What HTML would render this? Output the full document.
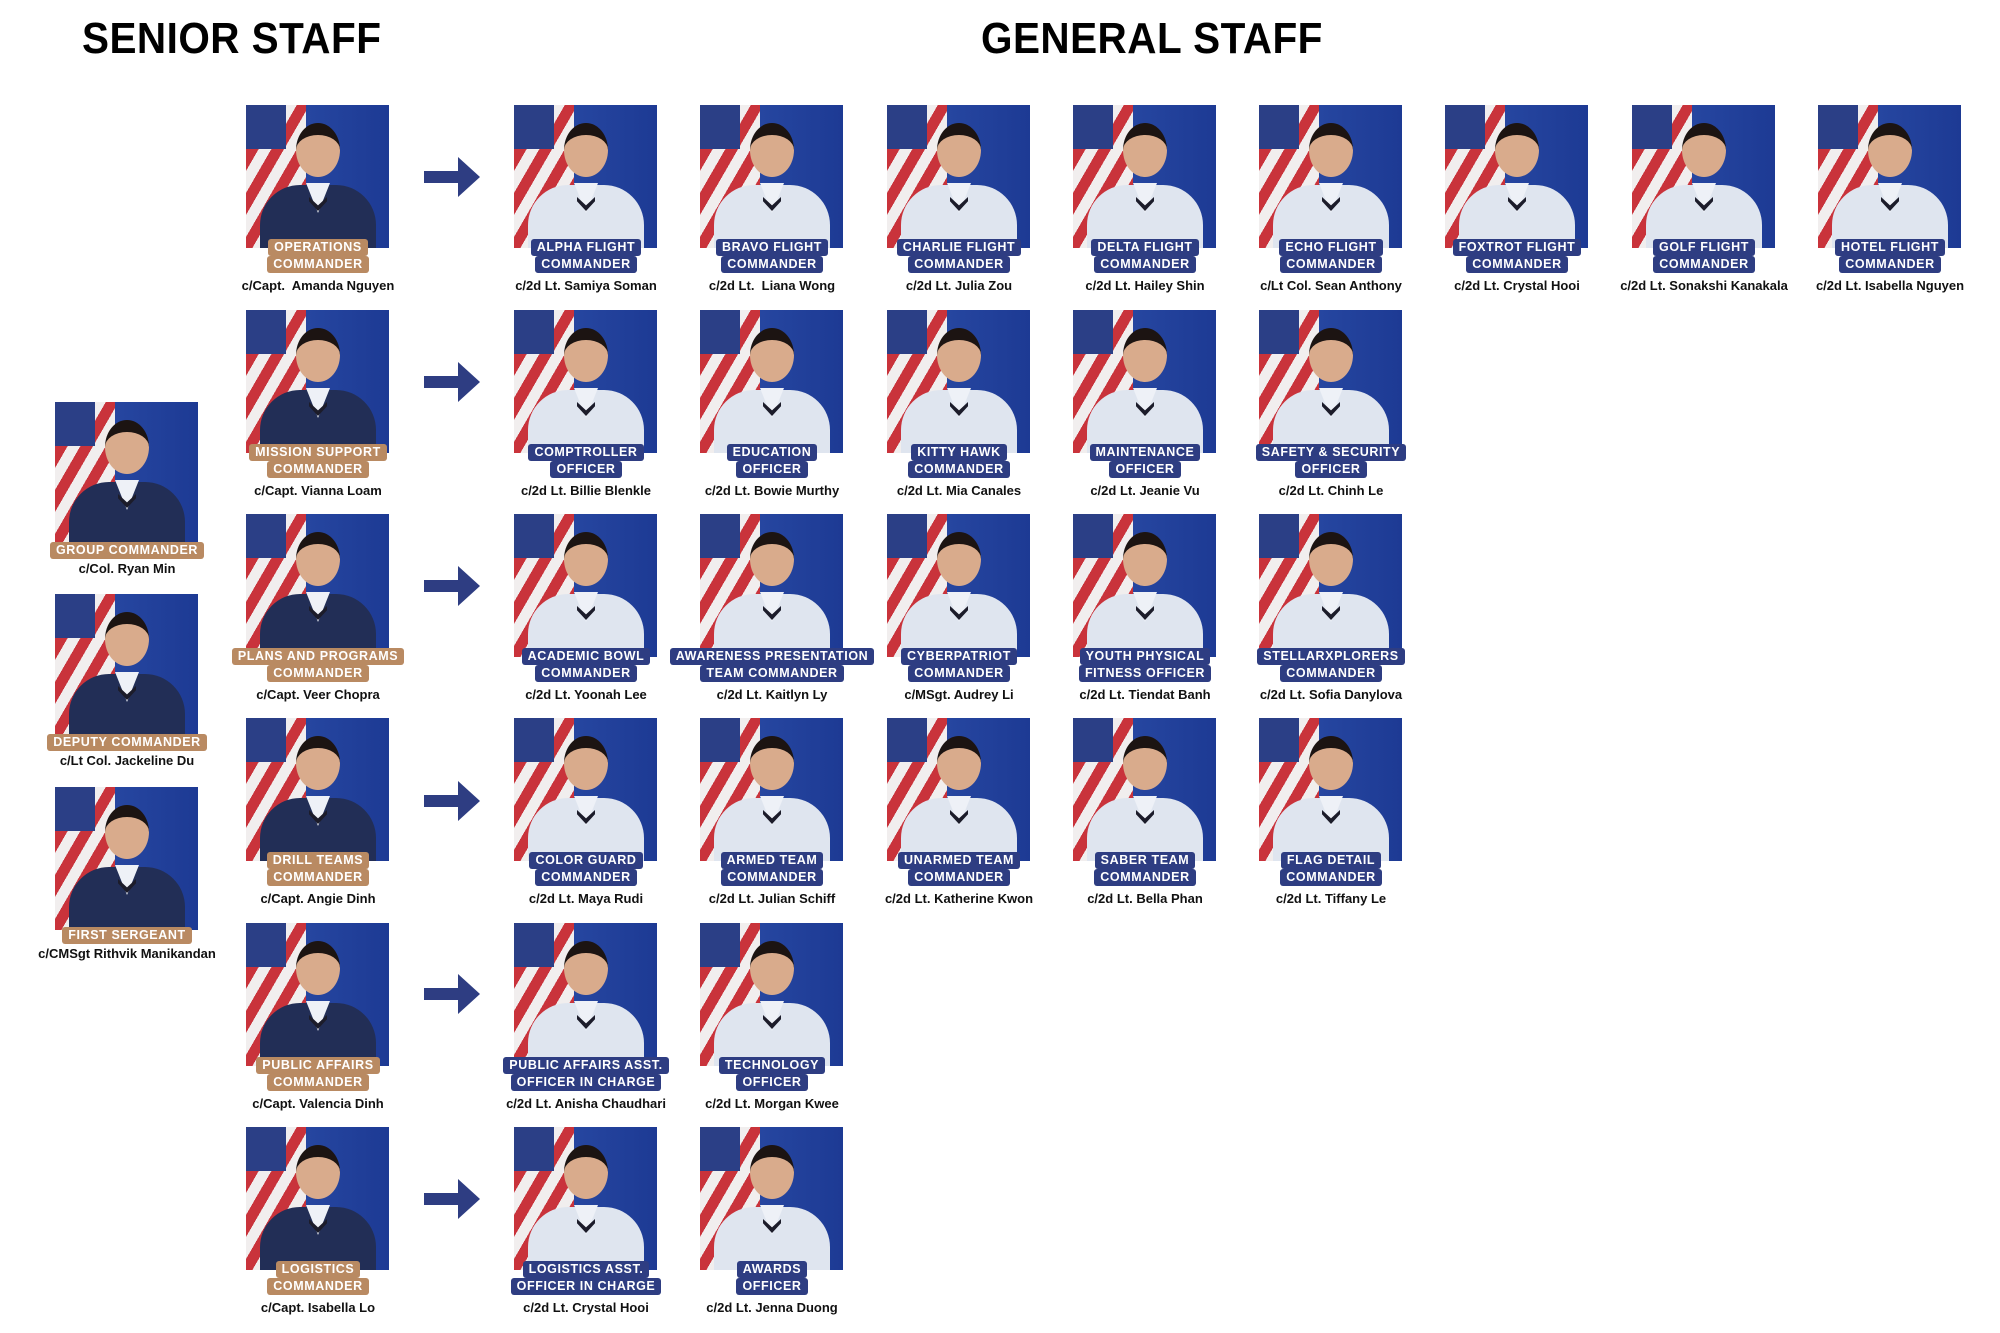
<!DOCTYPE html>
<html><head><meta charset="utf-8"><style>
*{margin:0;padding:0;box-sizing:border-box}
body{width:2000px;height:1333px;background:#fff;position:relative;overflow:hidden;font-family:"Liberation Sans",sans-serif}
.t{position:absolute;top:14px;font-weight:900;font-size:44px;letter-spacing:0.5px;color:#000;white-space:nowrap;transform:scaleX(0.92);transform-origin:left top}
.c{position:absolute;width:143px;height:200px}
.p{position:absolute;left:0;top:0;width:143px;height:143px;overflow:hidden;
background:linear-gradient(90deg,transparent 42%,#2646a0 42%,#1d3a94 100%),repeating-linear-gradient(120deg,#c9333b 0 11px,#f1eeee 11px 22px)}
.p:before{content:"";position:absolute;left:0;top:0;width:40px;height:44px;background:#2b3f86}
.p .h{position:absolute;left:50px;top:18px;width:44px;height:54px;border-radius:50%;background:#d9ab8c;border-top:12px solid #1c1412}
.p .b{position:absolute;left:14px;top:80px;width:116px;height:70px;border-radius:40px 40px 0 0;background:#dfe5ef}
.s .p .b{background:#222e56}
.p .n{position:absolute;left:60px;top:78px;width:24px;height:30px;background:#eef1f7;clip-path:polygon(0 0,100% 0,50% 100%)}
.p .k{position:absolute;left:63px;top:92px;width:18px;height:14px;background:#1c1c2a;clip-path:polygon(0 0,50% 60%,100% 0,100% 30%,50% 100%,0 30%)}
.l{position:absolute;left:-40px;width:224px;text-align:center;font-weight:700;font-size:12.5px;letter-spacing:0.6px;color:#fff;line-height:17px}
.l span{display:inline-block;background:#2e3d82;padding:0 6px;border-radius:3px;white-space:nowrap}
.s .l span{background:#b98a62}
.l1{top:134px}.l2{top:151px}
.nm{position:absolute;left:-50px;width:244px;top:173px;text-align:center;font-weight:700;font-size:13px;color:#111;white-space:nowrap}
.a{position:absolute;left:424px;width:56px;height:40px}
</style></head><body>
<div class="t" style="left:82px">SENIOR STAFF</div>
<div class="t" style="left:981px">GENERAL STAFF</div>

<svg class="a" style="top:157px" viewBox="0 0 56 40"><polygon points="0,14 34,14 34,0 56,20 34,40 34,26 0,26" fill="#2e3d82"/></svg>
<svg class="a" style="top:362px" viewBox="0 0 56 40"><polygon points="0,14 34,14 34,0 56,20 34,40 34,26 0,26" fill="#2e3d82"/></svg>
<svg class="a" style="top:566px" viewBox="0 0 56 40"><polygon points="0,14 34,14 34,0 56,20 34,40 34,26 0,26" fill="#2e3d82"/></svg>
<svg class="a" style="top:781px" viewBox="0 0 56 40"><polygon points="0,14 34,14 34,0 56,20 34,40 34,26 0,26" fill="#2e3d82"/></svg>
<svg class="a" style="top:974px" viewBox="0 0 56 40"><polygon points="0,14 34,14 34,0 56,20 34,40 34,26 0,26" fill="#2e3d82"/></svg>
<svg class="a" style="top:1179px" viewBox="0 0 56 40"><polygon points="0,14 34,14 34,0 56,20 34,40 34,26 0,26" fill="#2e3d82"/></svg>

<div class="c s" style="left:55px;top:402px"><div class="p"><div class="b"></div><div class="h"></div><div class="n"></div><div class="k"></div></div><div class="l" style="top:140px"><span>GROUP COMMANDER</span></div><div class="nm" style="top:159px">c/Col. Ryan Min</div></div>
<div class="c s" style="left:55px;top:594px"><div class="p"><div class="b"></div><div class="h"></div><div class="n"></div><div class="k"></div></div><div class="l" style="top:140px"><span>DEPUTY COMMANDER</span></div><div class="nm" style="top:159px">c/Lt Col. Jackeline Du</div></div>
<div class="c s" style="left:55px;top:787px"><div class="p"><div class="b"></div><div class="h"></div><div class="n"></div><div class="k"></div></div><div class="l" style="top:140px"><span>FIRST SERGEANT</span></div><div class="nm" style="top:159px">c/CMSgt Rithvik Manikandan</div></div>

<div class="c s" style="left:246px;top:105px"><div class="p"><div class="b"></div><div class="h"></div><div class="n"></div><div class="k"></div></div><div class="l l1"><span>OPERATIONS</span></div><div class="l l2"><span>COMMANDER</span></div><div class="nm">c/Capt.&nbsp; Amanda Nguyen</div></div>
<div class="c" style="left:514px;top:105px"><div class="p"><div class="b"></div><div class="h"></div><div class="n"></div><div class="k"></div></div><div class="l l1"><span>ALPHA FLIGHT</span></div><div class="l l2"><span>COMMANDER</span></div><div class="nm">c/2d Lt. Samiya Soman</div></div>
<div class="c" style="left:700px;top:105px"><div class="p"><div class="b"></div><div class="h"></div><div class="n"></div><div class="k"></div></div><div class="l l1"><span>BRAVO FLIGHT</span></div><div class="l l2"><span>COMMANDER</span></div><div class="nm">c/2d Lt.&nbsp; Liana Wong</div></div>
<div class="c" style="left:887px;top:105px"><div class="p"><div class="b"></div><div class="h"></div><div class="n"></div><div class="k"></div></div><div class="l l1"><span>CHARLIE FLIGHT</span></div><div class="l l2"><span>COMMANDER</span></div><div class="nm">c/2d Lt. Julia Zou</div></div>
<div class="c" style="left:1073px;top:105px"><div class="p"><div class="b"></div><div class="h"></div><div class="n"></div><div class="k"></div></div><div class="l l1"><span>DELTA FLIGHT</span></div><div class="l l2"><span>COMMANDER</span></div><div class="nm">c/2d Lt. Hailey Shin</div></div>
<div class="c" style="left:1259px;top:105px"><div class="p"><div class="b"></div><div class="h"></div><div class="n"></div><div class="k"></div></div><div class="l l1"><span>ECHO FLIGHT</span></div><div class="l l2"><span>COMMANDER</span></div><div class="nm">c/Lt Col. Sean Anthony</div></div>
<div class="c" style="left:1445px;top:105px"><div class="p"><div class="b"></div><div class="h"></div><div class="n"></div><div class="k"></div></div><div class="l l1"><span>FOXTROT FLIGHT</span></div><div class="l l2"><span>COMMANDER</span></div><div class="nm">c/2d Lt. Crystal Hooi</div></div>
<div class="c" style="left:1632px;top:105px"><div class="p"><div class="b"></div><div class="h"></div><div class="n"></div><div class="k"></div></div><div class="l l1"><span>GOLF FLIGHT</span></div><div class="l l2"><span>COMMANDER</span></div><div class="nm">c/2d Lt. Sonakshi Kanakala</div></div>
<div class="c" style="left:1818px;top:105px"><div class="p"><div class="b"></div><div class="h"></div><div class="n"></div><div class="k"></div></div><div class="l l1"><span>HOTEL FLIGHT</span></div><div class="l l2"><span>COMMANDER</span></div><div class="nm">c/2d Lt. Isabella Nguyen</div></div>

<div class="c s" style="left:246px;top:310px"><div class="p"><div class="b"></div><div class="h"></div><div class="n"></div><div class="k"></div></div><div class="l l1"><span>MISSION SUPPORT</span></div><div class="l l2"><span>COMMANDER</span></div><div class="nm">c/Capt. Vianna Loam</div></div>
<div class="c" style="left:514px;top:310px"><div class="p"><div class="b"></div><div class="h"></div><div class="n"></div><div class="k"></div></div><div class="l l1"><span>COMPTROLLER</span></div><div class="l l2"><span>OFFICER</span></div><div class="nm">c/2d Lt. Billie Blenkle</div></div>
<div class="c" style="left:700px;top:310px"><div class="p"><div class="b"></div><div class="h"></div><div class="n"></div><div class="k"></div></div><div class="l l1"><span>EDUCATION</span></div><div class="l l2"><span>OFFICER</span></div><div class="nm">c/2d Lt. Bowie Murthy</div></div>
<div class="c" style="left:887px;top:310px"><div class="p"><div class="b"></div><div class="h"></div><div class="n"></div><div class="k"></div></div><div class="l l1"><span>KITTY HAWK</span></div><div class="l l2"><span>COMMANDER</span></div><div class="nm">c/2d Lt. Mia Canales</div></div>
<div class="c" style="left:1073px;top:310px"><div class="p"><div class="b"></div><div class="h"></div><div class="n"></div><div class="k"></div></div><div class="l l1"><span>MAINTENANCE</span></div><div class="l l2"><span>OFFICER</span></div><div class="nm">c/2d Lt. Jeanie Vu</div></div>
<div class="c" style="left:1259px;top:310px"><div class="p"><div class="b"></div><div class="h"></div><div class="n"></div><div class="k"></div></div><div class="l l1"><span>SAFETY &amp; SECURITY</span></div><div class="l l2"><span>OFFICER</span></div><div class="nm">c/2d Lt. Chinh Le</div></div>

<div class="c s" style="left:246px;top:514px"><div class="p"><div class="b"></div><div class="h"></div><div class="n"></div><div class="k"></div></div><div class="l l1"><span>PLANS AND PROGRAMS</span></div><div class="l l2"><span>COMMANDER</span></div><div class="nm">c/Capt. Veer Chopra</div></div>
<div class="c" style="left:514px;top:514px"><div class="p"><div class="b"></div><div class="h"></div><div class="n"></div><div class="k"></div></div><div class="l l1"><span>ACADEMIC BOWL</span></div><div class="l l2"><span>COMMANDER</span></div><div class="nm">c/2d Lt. Yoonah Lee</div></div>
<div class="c" style="left:700px;top:514px"><div class="p"><div class="b"></div><div class="h"></div><div class="n"></div><div class="k"></div></div><div class="l l1"><span>AWARENESS PRESENTATION</span></div><div class="l l2"><span>TEAM COMMANDER</span></div><div class="nm">c/2d Lt. Kaitlyn Ly</div></div>
<div class="c" style="left:887px;top:514px"><div class="p"><div class="b"></div><div class="h"></div><div class="n"></div><div class="k"></div></div><div class="l l1"><span>CYBERPATRIOT</span></div><div class="l l2"><span>COMMANDER</span></div><div class="nm">c/MSgt. Audrey Li</div></div>
<div class="c" style="left:1073px;top:514px"><div class="p"><div class="b"></div><div class="h"></div><div class="n"></div><div class="k"></div></div><div class="l l1"><span>YOUTH PHYSICAL</span></div><div class="l l2"><span>FITNESS OFFICER</span></div><div class="nm">c/2d Lt. Tiendat Banh</div></div>
<div class="c" style="left:1259px;top:514px"><div class="p"><div class="b"></div><div class="h"></div><div class="n"></div><div class="k"></div></div><div class="l l1"><span>STELLARXPLORERS</span></div><div class="l l2"><span>COMMANDER</span></div><div class="nm">c/2d Lt. Sofia Danylova</div></div>

<div class="c s" style="left:246px;top:718px"><div class="p"><div class="b"></div><div class="h"></div><div class="n"></div><div class="k"></div></div><div class="l l1"><span>DRILL TEAMS</span></div><div class="l l2"><span>COMMANDER</span></div><div class="nm">c/Capt. Angie Dinh</div></div>
<div class="c" style="left:514px;top:718px"><div class="p"><div class="b"></div><div class="h"></div><div class="n"></div><div class="k"></div></div><div class="l l1"><span>COLOR GUARD</span></div><div class="l l2"><span>COMMANDER</span></div><div class="nm">c/2d Lt. Maya Rudi</div></div>
<div class="c" style="left:700px;top:718px"><div class="p"><div class="b"></div><div class="h"></div><div class="n"></div><div class="k"></div></div><div class="l l1"><span>ARMED TEAM</span></div><div class="l l2"><span>COMMANDER</span></div><div class="nm">c/2d Lt. Julian Schiff</div></div>
<div class="c" style="left:887px;top:718px"><div class="p"><div class="b"></div><div class="h"></div><div class="n"></div><div class="k"></div></div><div class="l l1"><span>UNARMED TEAM</span></div><div class="l l2"><span>COMMANDER</span></div><div class="nm">c/2d Lt. Katherine Kwon</div></div>
<div class="c" style="left:1073px;top:718px"><div class="p"><div class="b"></div><div class="h"></div><div class="n"></div><div class="k"></div></div><div class="l l1"><span>SABER TEAM</span></div><div class="l l2"><span>COMMANDER</span></div><div class="nm">c/2d Lt. Bella Phan</div></div>
<div class="c" style="left:1259px;top:718px"><div class="p"><div class="b"></div><div class="h"></div><div class="n"></div><div class="k"></div></div><div class="l l1"><span>FLAG DETAIL</span></div><div class="l l2"><span>COMMANDER</span></div><div class="nm">c/2d Lt. Tiffany Le</div></div>

<div class="c s" style="left:246px;top:923px"><div class="p"><div class="b"></div><div class="h"></div><div class="n"></div><div class="k"></div></div><div class="l l1"><span>PUBLIC AFFAIRS</span></div><div class="l l2"><span>COMMANDER</span></div><div class="nm">c/Capt. Valencia Dinh</div></div>
<div class="c" style="left:514px;top:923px"><div class="p"><div class="b"></div><div class="h"></div><div class="n"></div><div class="k"></div></div><div class="l l1"><span>PUBLIC AFFAIRS ASST.</span></div><div class="l l2"><span>OFFICER IN CHARGE</span></div><div class="nm">c/2d Lt. Anisha Chaudhari</div></div>
<div class="c" style="left:700px;top:923px"><div class="p"><div class="b"></div><div class="h"></div><div class="n"></div><div class="k"></div></div><div class="l l1"><span>TECHNOLOGY</span></div><div class="l l2"><span>OFFICER</span></div><div class="nm">c/2d Lt. Morgan Kwee</div></div>

<div class="c s" style="left:246px;top:1127px"><div class="p"><div class="b"></div><div class="h"></div><div class="n"></div><div class="k"></div></div><div class="l l1"><span>LOGISTICS</span></div><div class="l l2"><span>COMMANDER</span></div><div class="nm">c/Capt. Isabella Lo</div></div>
<div class="c" style="left:514px;top:1127px"><div class="p"><div class="b"></div><div class="h"></div><div class="n"></div><div class="k"></div></div><div class="l l1"><span>LOGISTICS ASST.</span></div><div class="l l2"><span>OFFICER IN CHARGE</span></div><div class="nm">c/2d Lt. Crystal Hooi</div></div>
<div class="c" style="left:700px;top:1127px"><div class="p"><div class="b"></div><div class="h"></div><div class="n"></div><div class="k"></div></div><div class="l l1"><span>AWARDS</span></div><div class="l l2"><span>OFFICER</span></div><div class="nm">c/2d Lt. Jenna Duong</div></div>
</body></html>
